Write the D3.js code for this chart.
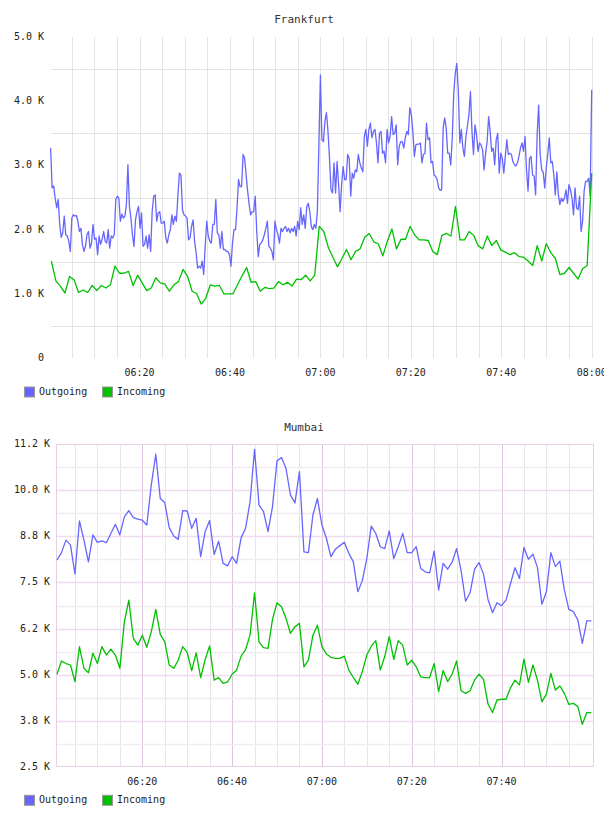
<!DOCTYPE html>
<html><head><meta charset="utf-8">
<script src="https://cdn.jsdelivr.net/npm/d3@7"></script>
<style>
html,body{margin:0;padding:0;background:#fff;}
svg{display:block;font-family:"DejaVu Sans Mono",monospace;}
</style>
</head><body>
<svg id="chart" width="608" height="816"></svg>
<script>
// ---------- DATA (values in K) ----------
const seriesNames = ["Outgoing", "Incoming"];
const seriesColors = ["#6666ff", "#00c000"];

// Frankfurt outgoing: samples evenly spaced from 06:00:20 to 08:00:00
const frankfurtOutgoing = [
3.27,2.65,2.68,2.49,2.34,2.47,2.08,1.88,1.95,2.21,1.92,1.90,1.82,1.66,2.18,2.23,2.21,2.22,2.13,1.97,
2.02,1.77,1.66,1.74,1.92,1.97,1.71,1.79,2.08,1.85,1.87,1.61,1.90,1.77,1.85,1.97,1.82,1.79,2.00,1.71,
1.90,1.87,1.92,2.47,2.52,2.49,2.13,2.24,2.18,2.21,2.39,3.01,2.36,2.18,1.92,1.74,2.15,2.28,2.36,2.02,
2.26,1.74,1.77,1.90,1.71,1.92,1.66,2.28,2.52,2.54,2.13,2.26,2.28,2.10,2.10,2.13,1.87,1.79,1.92,2.00,
2.23,2.08,2.21,2.13,2.54,2.88,
2.85,2.31,2.23,2.21,2.18,1.84,1.87,2.05,2.15,1.82,1.64,1.40,1.43,1.40,1.51,1.30,1.74,2.13,1.90,1.82,
1.79,2.08,2.08,2.47,1.95,1.92,1.71,1.97,1.69,1.69,1.66,1.66,1.61,1.43,1.79,2.00,2.00,2.34,2.78,2.67,
2.67,3.17,3.11,2.85,2.60,2.39,2.23,2.28,2.28,2.52,1.97,1.58,1.77,1.79,1.84,1.92,2.02,2.13,1.74,1.71,
1.66,1.53,2.13,2.00,1.92,1.79,2.02,1.97,2.02,2.05,1.97,2.02,1.95,2.02,1.97,2.05,1.90,2.13,2.00,2.34,
2.08,2.23,2.02,2.36,2.41,2.28,2.05,2.00,2.08,2.02,2.28,3.30,
4.41,3.40,3.37,3.69,3.82,3.53,3.11,2.62,2.57,3.04,2.57,3.06,2.70,2.28,2.70,2.98,2.78,2.78,3.17,3.11,
2.52,2.88,2.80,2.93,2.90,3.17,3.04,2.96,2.90,3.45,3.56,3.30,3.56,3.66,3.43,3.53,3.56,3.35,3.04,3.50,
3.53,3.19,3.22,3.04,3.56,3.35,3.45,3.76,3.48,3.50,3.63,3.01,3.30,3.37,3.37,3.27,3.43,3.53,3.48,3.90,
3.79,3.53,3.14,3.32,3.33,3.33,3.35,3.04,3.17,3.19,3.66,3.40,3.43,3.04,3.06,2.85,2.83,2.78,2.65,2.61,
2.62,3.58,3.74,3.58,3.19,3.19,3.01,3.43,4.13,4.44,4.59,
4.15,3.35,3.56,3.27,3.14,3.45,3.61,3.79,4.15,3.53,3.17,3.63,3.48,3.22,3.35,3.32,3.24,2.93,3.19,3.37,
3.76,3.53,3.22,3.27,3.01,3.40,3.50,2.88,3.19,3.11,2.88,3.14,3.40,3.17,3.19,3.17,3.06,3.01,2.99,3.04,
3.14,3.27,3.35,3.22,3.45,2.93,2.60,3.11,3.14,2.85,2.83,2.54,3.48,3.94,3.17,2.93,2.90,2.65,2.96,3.17,
3.43,3.04,3.06,2.85,2.54,2.90,2.54,2.39,2.49,2.44,2.49,2.62,2.41,2.70,2.62,2.49,2.23,2.65,2.34,2.31,
2.52,1.97,2.13,2.60,2.75,2.75,2.80,2.52,4.18
];
// Frankfurt incoming: per minute, 06:00:30 .. 08:00:00
const frankfurtIncoming = [
1.51,1.20,1.12,1.01,1.27,1.22,1.02,1.06,1.02,1.13,1.05,1.13,1.09,1.14,1.43,1.32,1.32,1.35,1.13,1.29,
1.17,1.05,1.09,1.25,1.17,1.15,1.04,1.14,1.19,1.38,
1.27,1.04,1.00,0.84,0.93,1.14,1.12,1.13,1.00,1.00,1.00,1.14,1.28,1.41,1.18,1.19,1.04,1.10,1.08,1.09,
1.19,1.14,1.18,1.12,1.23,1.22,1.29,1.20,1.29,2.05,
1.97,1.72,1.57,1.42,1.55,1.69,1.53,1.66,1.70,1.88,1.94,1.81,1.78,1.59,1.82,2.01,1.70,1.85,1.85,2.05,
1.92,1.84,1.84,1.83,1.66,1.61,1.91,1.94,1.90,2.36,
1.84,1.84,1.97,1.91,1.75,1.70,1.90,1.75,1.83,1.68,1.65,1.61,1.64,1.58,1.57,1.51,1.44,1.75,1.51,1.78,
1.64,1.55,1.30,1.32,1.41,1.32,1.23,1.39,1.44,2.88
];
// Mumbai: per minute, 06:01 .. 08:00
const mumbaiOutgoing = [
8.11,8.31,8.65,8.52,7.73,9.17,8.65,8.06,8.79,8.59,8.63,8.58,8.83,9.08,8.79,9.28,9.45,9.26,9.22,9.19,
9.06,10.14,10.98,9.78,9.67,8.99,8.76,8.67,9.45,9.44,8.97,9.24,8.20,8.88,9.18,8.26,8.62,8.02,7.95,8.20,
8.02,8.71,8.97,9.69,11.11,9.60,9.42,8.88,9.56,10.80,10.89,10.60,9.87,9.66,10.51,8.33,
8.31,9.33,9.78,9.06,8.70,8.20,8.40,8.50,8.59,8.29,8.06,7.25,7.55,8.15,9.03,8.83,8.47,8.42,8.90,8.15,
8.47,8.83,8.31,8.31,8.47,7.88,7.79,7.76,8.36,7.29,8.02,7.86,8.05,8.42,7.82,6.99,7.22,7.86,8.04,7.72,
7.04,6.68,6.95,6.87,7.02,7.46,7.90,7.61,8.45,8.13,8.27,7.91,6.91,7.25,8.31,7.93,8.08,7.29,6.77,6.71,
6.48,5.85,6.46,6.46
];
const mumbaiIncoming = [
5.01,5.37,5.30,5.26,4.81,5.76,5.17,5.05,5.58,5.30,5.76,5.53,5.69,5.53,5.17,6.43,7.02,5.98,5.80,6.07,
5.74,6.16,6.77,6.09,5.89,5.26,5.17,5.39,5.76,5.60,5.11,5.59,4.92,5.41,5.78,4.85,4.92,4.76,4.80,5.01,
5.12,5.50,5.68,6.07,7.22,5.89,5.73,5.71,6.50,6.95,6.84,6.53,6.12,6.30,6.39,5.21,
5.39,6.07,6.34,5.76,5.56,5.47,5.44,5.44,5.50,5.12,4.92,4.74,5.08,5.53,5.77,5.92,5.12,5.49,6.03,5.41,
5.92,5.80,5.26,5.39,5.21,4.94,4.92,4.92,5.30,4.54,5.11,4.81,5.01,5.37,4.56,4.49,4.56,4.85,5.01,4.87,
4.20,3.97,4.31,4.33,4.33,4.64,4.85,4.72,5.42,4.79,5.26,4.85,4.26,4.47,5.03,4.58,4.69,4.49,4.19,4.22,
4.13,3.65,3.97,3.97
];

const frankfurtYTicks = [0, 1, 2, 3, 4, 5];
const frankfurtYLabels = ["0", "1.0 K", "2.0 K", "3.0 K", "4.0 K", "5.0 K"];
const mumbaiYTicks = [2.5, 3.75, 5.0, 6.25, 7.5, 8.75, 10.0, 11.25];
const mumbaiYLabels = ["2.5 K", "3.8 K", "5.0 K", "6.2 K", "7.5 K", "8.8 K", "10.0 K", "11.2 K"];
const frankfurtTimeLabels = ["06:20", "06:40", "07:00", "07:20", "07:40", "08:00"];
const mumbaiTimeLabels = ["06:20", "06:40", "07:00", "07:20", "07:40"];

// ---------- HELPERS ----------
const parseT = d3.timeParse("%H:%M:%S");
function spread(values, start, end) {
  const t0 = parseT(start).getTime(), t1 = parseT(end).getTime();
  const n = values.length;
  return values.map((v, i) => ({ t: new Date(t0 + (t1 - t0) * i / (n - 1)), v }));
}

const svg = d3.select("#chart");
svg.append("defs").append("clipPath").attr("id", "clipTop")
  .append("rect").attr("x", 0).attr("y", 0).attr("width", 604).attr("height", 816);

function drawChart(cfg) {
  const g = svg.append("g");
  const x = d3.scaleTime().domain([parseT("06:00:00"), parseT("08:00:00")]).range(cfg.xRange);
  const y = d3.scaleLinear().domain(cfg.yDomain).range([cfg.bottom, cfg.top]);
  const [L, R] = cfg.frameX;

  // title
  g.append("text").attr("x", 304).attr("y", cfg.titleY).attr("text-anchor", "middle")
    .attr("dominant-baseline", "middle").attr("font-size", 11).attr("fill", "#333").text(cfg.title);

  // vertical grid (every 5 min)
  const minor = d3.timeMinute.every(5).range(parseT("06:05:00"), parseT(cfg.lastGrid));
  const vg = g.append("g");
  minor.forEach(t => {
    const px = Math.round(x(t)) + 0.5;
    if (px < L || px > R + 1) return;
    const isMajor = t.getMinutes() % 20 === 0;
    vg.append("line").attr("x1", px).attr("x2", px).attr("y1", cfg.top).attr("y2", cfg.bottom)
      .attr("stroke", isMajor ? cfg.vMajor : cfg.vMinor).attr("stroke-width", 1);
  });

  // horizontal grid
  cfg.hLines.forEach(h => {
    const py = Math.round(y(h.v)) + 0.5;
    g.append("line").attr("x1", L).attr("x2", R).attr("y1", py).attr("y2", py)
      .attr("stroke", h.major ? cfg.hMajor : cfg.hMinor).attr("stroke-width", cfg.hWidth);
  });

  if (cfg.border) {
    g.append("rect").attr("x", L + 0.5).attr("y", Math.round(cfg.top) + 0.5)
      .attr("width", R - L).attr("height", Math.round(cfg.bottom - cfg.top))
      .attr("fill", "none").attr("stroke", cfg.border);
  }

  // y labels
  cfg.yTicks.forEach((v, i) => {
    g.append("text").attr("x", cfg.yLabelX).attr("y", y(v)).attr("text-anchor", "end")
      .attr("dominant-baseline", "middle").attr("font-size", 10).attr("fill", "#222")
      .text(cfg.yLabels[i]);
  });

  // x labels
  const xl = g.append("g");
  if (cfg.clip) xl.attr("clip-path", "url(#clipTop)");
  cfg.timeLabels.forEach(s => {
    xl.append("text").attr("x", x(parseT(s + ":00"))).attr("y", cfg.bottom + 15)
      .attr("text-anchor", "middle").attr("dominant-baseline", "middle")
      .attr("font-size", 10).attr("fill", "#222").text(s);
  });

  // lines
  const line = d3.line().x(d => x(d.t)).y(d => y(d.v));
  cfg.series.forEach((s, i) => {
    g.append("path").datum(s).attr("d", line).attr("fill", "none")
      .attr("stroke", seriesColors[i]).attr("stroke-width", 1.3)
      .attr("stroke-linejoin", "round");
  });

  // legend
  const ly = cfg.legendY;
  const lx = [24.5, 102.5];
  seriesNames.forEach((n, i) => {
    g.append("rect").attr("x", lx[i]).attr("y", ly - 5).attr("width", 10).attr("height", 10)
      .attr("fill", seriesColors[i]).attr("stroke", "#999").attr("stroke-width", 1);
    g.append("text").attr("x", lx[i] + 14.5).attr("y", ly).attr("dominant-baseline", "middle")
      .attr("font-size", 10).attr("fill", "#222").text(n);
  });
}

// Frankfurt
drawChart({
  title: "Frankfurt", titleY: 20,
  xRange: [49.1, 591.7], frameX: [51, 593], lastGrid: "08:00:01",
  yDomain: [0, 5], top: 37, bottom: 358,
  hLines: [0.5, 1.5, 2.5, 3.5, 4.5].map(v => ({ v, major: true })),
  hMajor: "#e4e4e4", hMinor: "#e4e4e4", hWidth: 1.2,
  vMajor: "#e4e4e4", vMinor: "#e4e4e4",
  border: null,
  yTicks: frankfurtYTicks, yLabels: frankfurtYLabels, yLabelX: 44,
  timeLabels: frankfurtTimeLabels, clip: true,
  series: [spread(frankfurtOutgoing, "06:00:20", "08:00:00"),
           spread(frankfurtIncoming, "06:00:30", "08:00:00")],
  legendY: 392
});

// Mumbai
const mumbaiH = [];
mumbaiYTicks.forEach((v, i) => {
  if (i > 0 && i < mumbaiYTicks.length - 1) mumbaiH.push({ v, major: true });
  if (i < mumbaiYTicks.length - 1) mumbaiH.push({ v: (v + mumbaiYTicks[i + 1]) / 2, major: false });
});
drawChart({
  title: "Mumbai", titleY: 428,
  xRange: [52.5, 591.3], frameX: [56, 593], lastGrid: "07:56:00",
  yDomain: [2.5, 11.25], top: 444.3, bottom: 766.7,
  hLines: mumbaiH,
  hMajor: "#eedcee", hMinor: "#f2ecf2", hWidth: 1.5,
  vMajor: "#dcc4dc", vMinor: "#ebe3eb",
  border: "#e6d0e6",
  yTicks: mumbaiYTicks, yLabels: mumbaiYLabels, yLabelX: 50,
  timeLabels: mumbaiTimeLabels, clip: false,
  series: [spread(mumbaiOutgoing, "06:01:00", "08:00:00"),
           spread(mumbaiIncoming, "06:01:00", "08:00:00")],
  legendY: 800.3
});
</script>
</body></html>
